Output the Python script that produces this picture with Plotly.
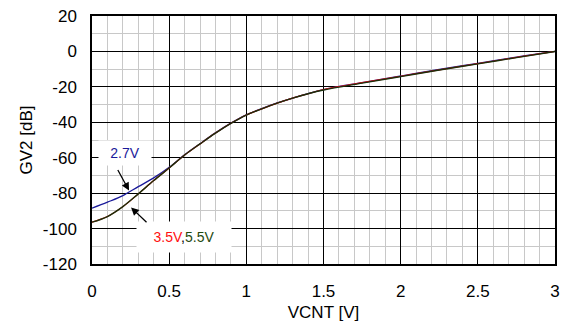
import plotly.graph_objects as go

vcnt = [0.0, 0.1, 0.2, 0.3, 0.4, 0.5, 0.6, 0.7, 0.8, 0.9, 1.0, 1.1, 1.2, 1.3, 1.4, 1.5,
        1.75, 2.0, 2.25, 2.5, 2.75, 3.0]
gv_27 = [-88.5, -85.1, -81.4, -76.3, -71.4, -65.4, -58.4, -52.1, -46.0, -40.5, -35.8,
         -32.3, -29.1, -26.3, -23.8, -21.5, -17.6, -13.9, -10.2, -6.7, -3.2, 0.0]
gv_35 = [-96.4, -93.2, -87.6, -80.4, -72.9, -65.8, -58.5, -52.2, -46.1, -40.6, -35.9,
         -32.4, -29.2, -26.4, -23.9, -21.5, -17.6, -14.0, -10.4, -6.9, -3.4, 0.0]
gv_55 = [-96.4, -93.2, -87.6, -80.4, -72.9, -65.8, -58.5, -52.2, -46.1, -40.6, -35.9,
         -32.4, -29.2, -26.4, -23.9, -21.8, -17.9, -14.2, -10.5, -7.0, -3.5, 0.0]

x_ticks = [0, 0.5, 1, 1.5, 2, 2.5, 3]
x_labels = ["0", "0.5", "1", "1.5", "2", "2.5", "3"]
y_ticks = [20, 0, -20, -40, -60, -80, -100, -120]
y_labels = ["20", "0", "-20", "-40", "-60", "-80", "-100", "-120"]

FONT = "Liberation Sans, Arial, sans-serif"

fig = go.Figure()
fig.add_trace(go.Scatter(x=vcnt, y=gv_27, mode="lines", line=dict(color="#1a1a9a", width=1.3),
                         line_shape="spline", name="2.7V"))
fig.add_trace(go.Scatter(x=vcnt, y=gv_35, mode="lines", line=dict(color="#ff1010", width=1.2),
                         line_shape="spline", name="3.5V"))
fig.add_trace(go.Scatter(x=vcnt, y=gv_55, mode="lines", line=dict(color="#1a2e0a", width=1.4),
                         line_shape="spline", name="5.5V"))

fig.update_layout(
    width=568, height=334,
    margin=dict(l=92, r=13, t=16, b=70, autoexpand=False),
    paper_bgcolor="white", plot_bgcolor="white",
    showlegend=False,
    font=dict(family=FONT, size=17, color="black"),
)
fig.update_xaxes(
    range=[0, 3], tickvals=x_ticks, ticktext=x_labels, automargin=False,
    showgrid=True, gridcolor="#000000", gridwidth=1,
    minor=dict(dtick=0.1, showgrid=True, gridcolor="#c8c8c8", gridwidth=1),
    showline=True, linecolor="black", linewidth=1.5, mirror=True,
    ticks="outside", ticklen=11, tickcolor="rgba(0,0,0,0)",
    zeroline=False,
    title=dict(text="VCNT [V]", font=dict(size=17), standoff=6),
)
fig.update_yaxes(
    range=[-120, 20], tickvals=y_ticks, ticktext=y_labels, automargin=False,
    showgrid=True, gridcolor="#000000", gridwidth=1,
    minor=dict(dtick=10, showgrid=True, gridcolor="#c8c8c8", gridwidth=1),
    showline=True, linecolor="black", linewidth=1.5, mirror=True,
    ticks="outside", ticklen=10, tickcolor="rgba(0,0,0,0)",
    zeroline=False,
    title=dict(text="GV2 [dB]", font=dict(size=17), standoff=6),
)

fig.add_annotation(x=0.214, y=-57.6, xref="x", yref="y", text="2.7V", showarrow=False,
                   font=dict(size=14, color="#1a1a9a", family=FONT), bgcolor="white",
                   xanchor="center", yanchor="middle", width=50, height=22)
fig.add_annotation(x=0.24, y=-78.5, ax=0.162, ay=-66.1, xref="x", yref="y", axref="x", ayref="y",
                   text="", showarrow=True, arrowhead=2, arrowsize=1.2, arrowwidth=1.3,
                   arrowcolor="black")
fig.add_annotation(x=0.596, y=-104.5, xref="x", yref="y",
                   text="<span style='color:#ff1010'>3.5V</span>,<span style='color:#1f4a10'>5.5V</span>",
                   showarrow=False, font=dict(size=14, family=FONT), bgcolor="white",
                   xanchor="center", yanchor="middle", width=92, height=28)
fig.add_annotation(x=0.253, y=-88.1, ax=0.363, ay=-97.2, xref="x", yref="y", axref="x", ayref="y",
                   text="", showarrow=True, arrowhead=2, arrowsize=1.2, arrowwidth=1.3,
                   arrowcolor="black")

fig.write_html("out.html")
